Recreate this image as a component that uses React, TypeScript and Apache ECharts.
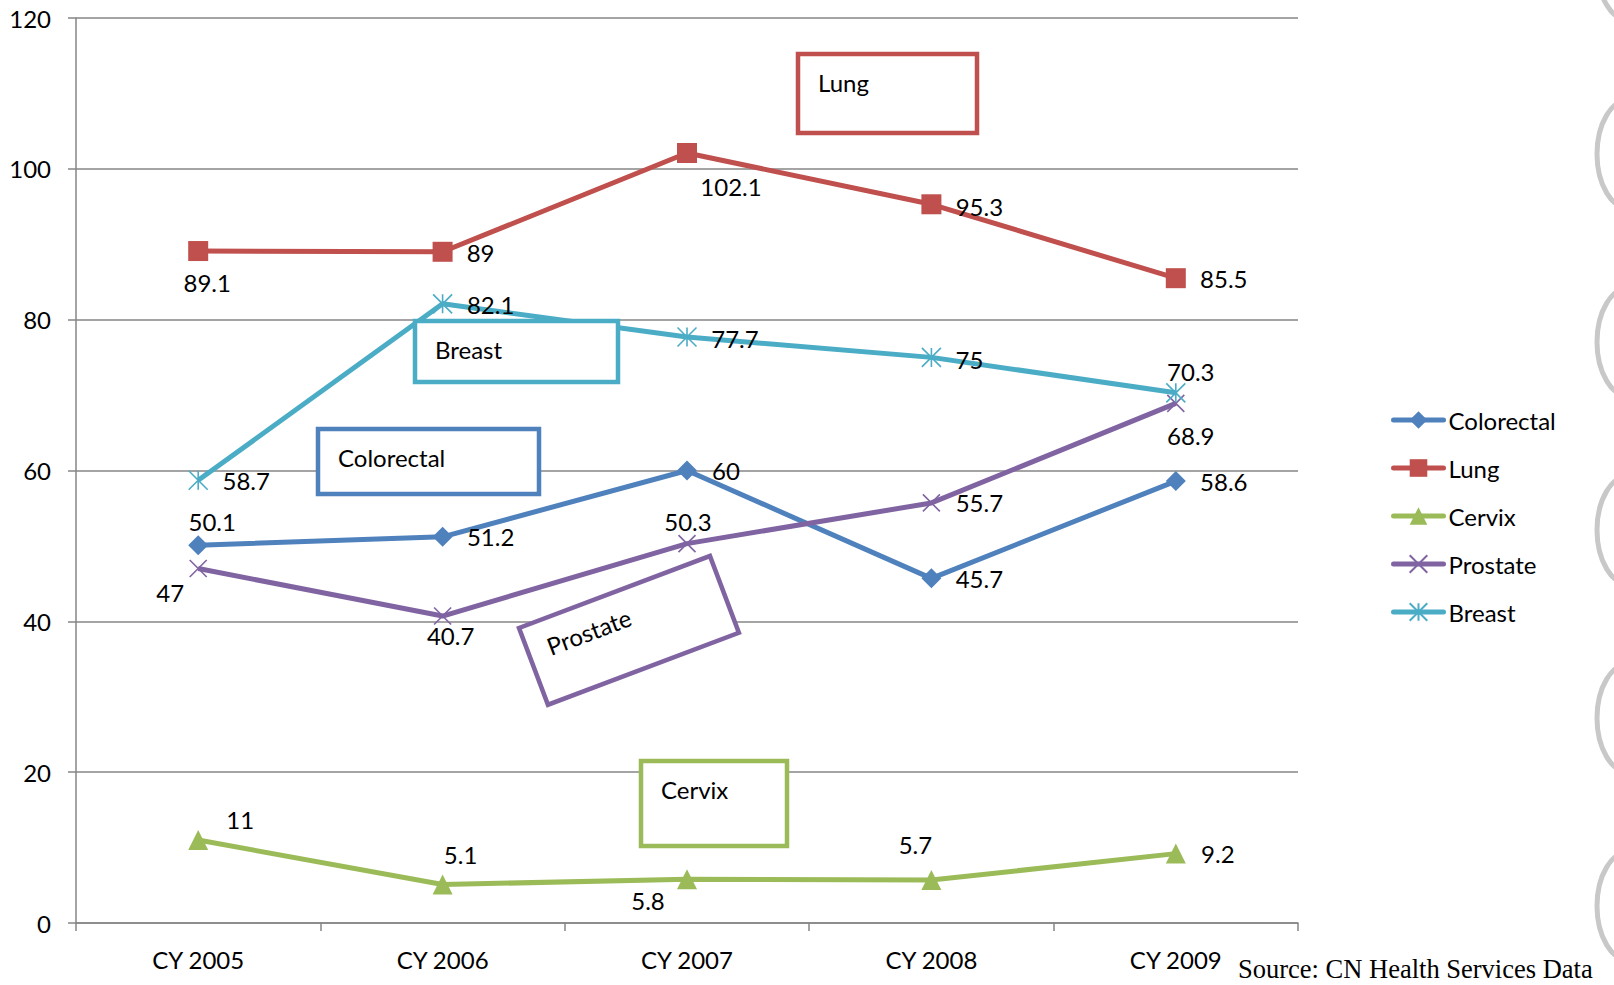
import React, { useEffect, useRef } from "react";
import * as echarts from "echarts";

const categories = ["CY 2005", "CY 2006", "CY 2007", "CY 2008", "CY 2009"];
const colorectal = [50.1, 51.2, 60, 45.7, 58.6];
const lung = [89.1, 89, 102.1, 95.3, 85.5];
const cervix = [11, 5.1, 5.8, 5.7, 9.2];
const prostate = [47, 40.7, 50.3, 55.7, 68.9];
const breast = [58.7, 82.1, 77.7, 75, 70.3];
const seriesNames = ["Colorectal", "Lung", "Cervix", "Prostate", "Breast"];
const sourceText = "Source: CN Health Services Data";

const FONT = "Lato, 'Noto Sans', sans-serif";
const FS = 24;

// label offsets (style) per series point
const labelOffsets: number[][][] = [
  [[14, -24], [48, 0], [39, 0], [48, 0], [48, 0]],
  [[9, 31], [38, 1], [44, 34], [48, 2], [48, 0]],
  [[42, -21], [18, -30], [-39, 21], [-16, -36], [42, 0]],
  [[-28, 24], [8, 19], [1, -22], [48, 0], [15, 32]],
  [[48, 0], [48, 1], [48, 1], [38, 2], [15, -21]],
];

const colors = ["#4F81BD", "#C0504D", "#9BBB59", "#8064A2", "#4BACC6"];
const symbols = [
  "diamond",
  "rect",
  "triangle",
  "path://M0 0L20 20M20 0L0 20",
  "path://M10 0L10 20M0 0L20 20M20 0L0 20",
];
const symbolSizes = [20, 20, 20, 17, 19];

function makeSeries(idx: number, data: number[]) {
  const c = colors[idx];
  return {
    name: seriesNames[idx],
    type: "line",
    data: data.map((v, i) => ({
      value: v,
      label: {
        show: true,
        position: "inside",
        offset: labelOffsets[idx][i],
      },
    })),
    symbol: symbols[idx],
    symbolSize: symbolSizes[idx],
    showAllSymbol: true,
    lineStyle: { color: c, width: 5 },
    itemStyle: {
      color: c,
      borderColor: c,
      borderWidth: idx >= 3 ? 1.6 : 0,
    },
    label: {
      show: true,
      color: "#000",
      fontSize: FS,
      fontFamily: FONT,
    },
    emphasis: { disabled: true },
    z: 2 + idx,
  };
}

function box(
  x: number,
  y: number,
  w: number,
  h: number,
  color: string,
  text: string,
  rotation = 0
) {
  return {
    type: "group",
    x,
    y,
    rotation,
    z: 100,
    children: [
      {
        type: "rect",
        shape: { x: 0, y: 0, width: w, height: h },
        style: { fill: "#fff", stroke: color, lineWidth: 4.5 },
        z: 100,
      },
      {
        type: "text",
        x: 20,
        y: 28,
        style: {
          text,
          fill: "#000",
          font: `${FS}px ${FONT}`,
          textVerticalAlign: "middle",
          verticalAlign: "middle",
        },
        z: 101,
      },
    ],
  };
}

const circleCenters = [-34, 154, 342, 530, 718, 906];

export default function App() {
  const ref = useRef<HTMLDivElement>(null);
  useEffect(() => {
    if (!ref.current) return;
    const chart = echarts.init(ref.current, null, { renderer: "svg" });
    const option: any = {
      animation: false,
      backgroundColor: "#fff",
      grid: { left: 76, right: 316, top: 18, bottom: 62, containLabel: false },
      legend: {
        orient: "vertical",
        left: 1386,
        top: 403,
        itemWidth: 50,
        itemHeight: 22,
        itemGap: 24,
        lineStyle: { width: 5, cap: "round" },
        textStyle: { fontSize: FS, fontFamily: FONT, color: "#000", lineHeight: 24 },
        data: seriesNames,
        selectedMode: false,
      },
      xAxis: {
        type: "category",
        data: categories,
        boundaryGap: true,
        axisLine: { lineStyle: { color: "#868686", width: 1.5 } },
        axisTick: { show: true, length: 8, lineStyle: { color: "#868686", width: 1.5 } },
        axisLabel: { color: "#000", fontSize: FS, fontFamily: FONT, margin: 24 },
      },
      yAxis: {
        type: "value",
        min: 0,
        max: 120,
        interval: 20,
        axisLine: { show: true, lineStyle: { color: "#868686", width: 1.5 } },
        axisTick: { show: true, length: 8, lineStyle: { color: "#868686", width: 1.5 } },
        axisLabel: { color: "#000", fontSize: FS, fontFamily: FONT, margin: 25 },
        splitLine: { show: true, lineStyle: { color: "#868686", width: 1.5 } },
      },
      series: [
        makeSeries(0, colorectal),
        makeSeries(1, lung),
        makeSeries(2, cervix),
        makeSeries(3, prostate),
        makeSeries(4, breast),
      ],
      graphic: [
        box(798, 54, 179, 79, colors[1], "Lung"),
        box(415, 321, 203, 61, colors[4], "Breast"),
        box(318, 429, 221, 65, colors[0], "Colorectal"),
        box(641, 761, 146, 85, colors[2], "Cervix"),
        box(519, 628, 204, 82, colors[3], "Prostate", 0.361),
        {
          type: "text",
          x: 1238,
          y: 969,
          style: {
            text: sourceText,
            fill: "#000",
            font: "26.5px 'Liberation Serif', 'DejaVu Serif', serif",
            verticalAlign: "middle",
            textVerticalAlign: "middle",
          },
          z: 100,
        },
        ...circleCenters.map((cy) => ({
          type: "ellipse",
          shape: { cx: 1630, cy, rx: 33, ry: 55 },
          style: { fill: "none", stroke: "#c8c8c8", lineWidth: 5 },
          z: 50,
        })),
      ],
    };
    chart.setOption(option);
    return () => chart.dispose();
  }, []);
  return (
    <div
      ref={ref}
      style={{ position: "fixed", left: 0, top: 0, width: 1614, height: 985 }}
    />
  );
}
